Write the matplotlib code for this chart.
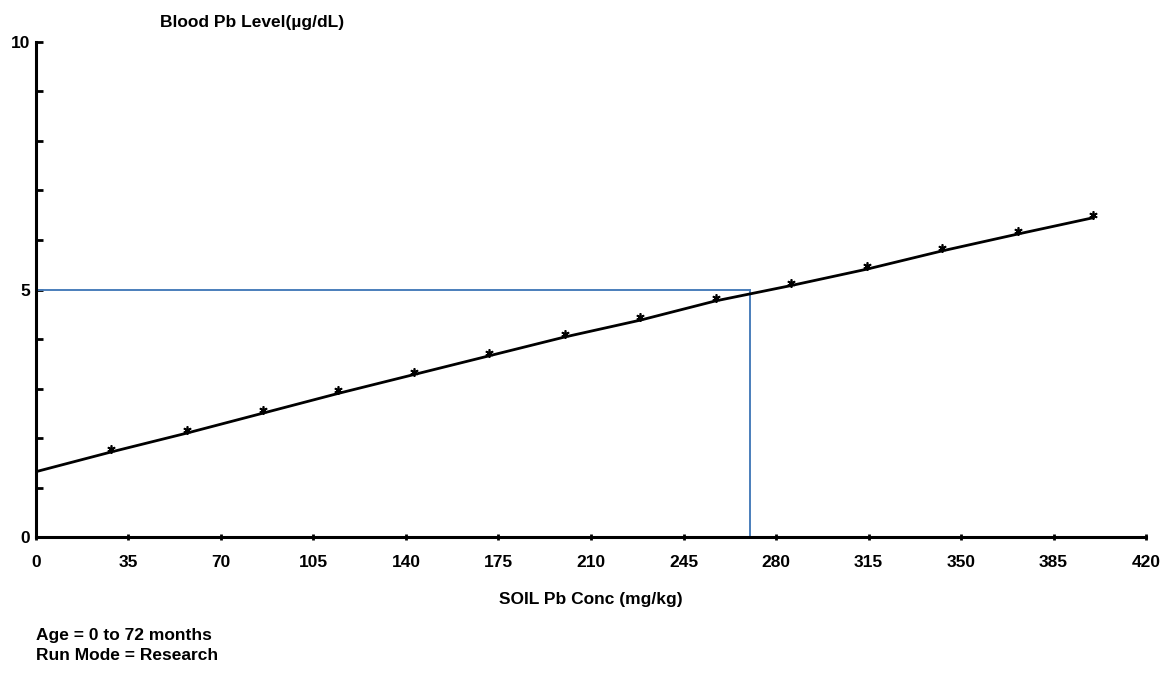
import numpy as np
import matplotlib.pyplot as plt

plt.rcParams['font.family'] = ['Liberation Sans Narrow', 'Liberation Sans', 'DejaVu Sans']
plt.rcParams['font.weight'] = 'bold'

# Soil lead concentration (mg/kg) and predicted blood lead (ug/dL)
soil_pb = np.linspace(0, 400, 15)
blood_pb = [1.32, 1.72, 2.10, 2.50, 2.90, 3.28, 3.66, 4.04,
            4.38, 4.77, 5.08, 5.41, 5.78, 6.12, 6.45]

# Cutoff guide: soil level giving 5 ug/dL
cutoff_soil = 270
cutoff_blood = 5

x_ticks = list(range(0, 421, 35))
y_ticks = list(range(0, 11))
y_tick_labels = ['0', '', '', '', '', '5', '', '', '', '', '10']

fs = 12.5

fig = plt.figure(figsize=(11.71, 6.75), dpi=100)
ax = fig.add_axes([0.0307, 0.2044, 0.948, 0.7334])

ax.plot([0, cutoff_soil], [cutoff_blood, cutoff_blood], color='#4a7ebb', lw=1.4, zorder=2)
ax.plot([cutoff_soil, cutoff_soil], [0, cutoff_blood], color='#4a7ebb', lw=1.4, zorder=2)

ax.plot(soil_pb, blood_pb, color='black', lw=2.0, zorder=3)
ax.plot(soil_pb[1:], np.array(blood_pb[1:]) + 0.06, linestyle='none',
        marker=(6, 2, 0), markersize=6, markeredgewidth=1.2, color='black', zorder=4)

ax.set_xlim(0, 420)
ax.set_ylim(0, 10)
ax.set_xticks(x_ticks)
ax.set_xticklabels([str(t) for t in x_ticks])
ax.set_yticks(y_ticks)
ax.set_yticklabels(y_tick_labels)

for s in ['top', 'right']:
    ax.spines[s].set_visible(False)
for s in ['left', 'bottom']:
    ax.spines[s].set_linewidth(2.2)

ax.tick_params(axis='x', direction='inout', length=4, width=2, pad=11, labelsize=fs)
ax.tick_params(axis='y', direction='in', length=5, width=2, pad=4, labelsize=fs)

ax.set_xlabel('SOIL Pb Conc (mg/kg)', fontsize=fs, fontweight='bold', labelpad=16)
fig.text(0.137, 0.967, 'Blood Pb Level(\u00b5g/dL)', fontsize=fs, fontweight='bold', va='center')
fig.text(0.031, 0.059, 'Age = 0 to 72 months', fontsize=fs, fontweight='bold', va='center')
fig.text(0.031, 0.029, 'Run Mode = Research', fontsize=fs, fontweight='bold', va='center')

fig.savefig('out.png', dpi=100)
